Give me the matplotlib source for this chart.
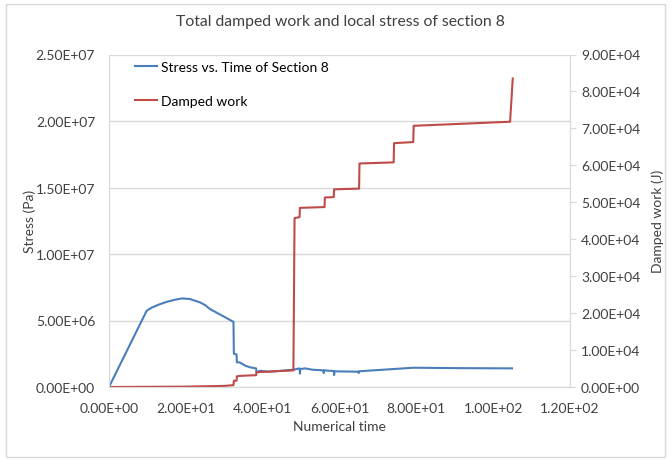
import matplotlib.pyplot as plt
from matplotlib.patches import Rectangle
from matplotlib.ticker import FuncFormatter

plt.rcParams['font.family'] = ['Lato', 'DejaVu Sans']

# stress of section 8 (Pa, x1e6) vs numerical time
t_stress = [0, 9.8, 11, 13, 15, 17, 19, 21, 23.7, 25, 26.3, 32.4, 32.5, 33.2, 33.3,
            34, 35.5, 36.7, 38.3, 38.4, 39.3, 41.5, 44, 48, 49.6, 49.7, 49.8, 51, 53,
            55.8, 55.9, 56, 58.5, 58.6, 58.7, 64.9, 65, 65.1, 74, 79.3, 90, 104.9]
stress = [0, 5.73, 5.95, 6.2, 6.4, 6.55, 6.66, 6.62, 6.36, 6.16, 5.86, 4.9, 2.5, 2.45, 1.85,
          1.85, 1.6, 1.48, 1.4, 1.1, 1.22, 1.15, 1.2, 1.3, 1.4, 1.0, 1.35, 1.4, 1.3,
          1.25, 1.05, 1.25, 1.2, 0.9, 1.18, 1.15, 1.05, 1.18, 1.35, 1.45, 1.42, 1.4]

# damped work (J, x1e4)
t_work = [0, 20, 30, 32.4, 32.5, 33.2, 33.3, 34, 36, 38.3, 38.4, 42, 48, 48.3, 49.6, 49.7,
          56.1, 56.2, 58.5, 58.6, 65.1, 65.2, 74.1, 74.2, 79.2, 79.3, 104.4, 105.1]
work = [0, 0.01, 0.03, 0.05, 0.17, 0.17, 0.29, 0.3, 0.31, 0.32, 0.4, 0.42, 0.45, 4.57, 4.6, 4.85,
        4.87, 5.13, 5.14, 5.35, 5.37, 6.05, 6.08, 6.6, 6.63, 7.07, 7.18, 8.35]

blue = '#4A7EBB'
red = '#BE4B48'
grid_c = '#D9D9D9'
txt_c = '#404040'

fig = plt.figure(figsize=(6.71, 4.6), dpi=100)
fig.patches.append(Rectangle((0.009, 0.005), 0.982, 0.984, transform=fig.transFigure,
                             fill=False, edgecolor='#D9D9D9', linewidth=1))
ax = fig.add_axes([109 / 671, 1 - 388 / 460, (570 - 109) / 671, (388 - 55.5) / 460])
ax2 = ax.twinx()

l1, = ax.plot(t_stress, [s * 1e6 for s in stress], color=blue, lw=1.5, label='Stress vs. Time of Section 8')
l2, = ax2.plot(t_work, [w * 1e4 for w in work], color=red, lw=1.5, label='Damped work')

ax.set_xlim(0, 120)
ax.set_ylim(0, 2.5e7)
ax2.set_ylim(0, 9e4)
ax.set_xticks(range(0, 121, 20))
ax.set_yticks([i * 5e6 for i in range(6)])
ax2.set_yticks([i * 1e4 for i in range(10)])
sci = FuncFormatter(lambda v, p: f'{v:.2E}')
ax.xaxis.set_major_formatter(sci)
ax.yaxis.set_major_formatter(sci)
ax2.yaxis.set_major_formatter(sci)

ax.grid(axis='y', color=grid_c, lw=1)
ax.set_axisbelow(True)
for a in (ax, ax2):
    a.spines['top'].set_visible(False)
    a.spines['left'].set_color(grid_c)
    a.spines['right'].set_color(grid_c)
    a.spines['bottom'].set_color(grid_c)
ax.tick_params(axis='both', length=0, labelsize=10, colors=txt_c, pad=10)
ax2.tick_params(axis='y', length=4, color=grid_c, labelsize=10, colors=txt_c, pad=4)
ax.tick_params(axis='x', pad=11)

ax.set_xlabel('Numerical time', fontsize=10, color=txt_c, labelpad=4)
ax.set_ylabel('Stress (Pa)', fontsize=10, color=txt_c, labelpad=0)
ax2.set_ylabel('Damped work (J)', fontsize=10, color=txt_c, labelpad=8)
fig.text(0.507, 1 - 22 / 460, 'Total damped work and local stress of section 8',
         ha='center', va='center', fontsize=11.3, color=txt_c)

ax2.legend(handles=[l1, l2], loc='upper left', bbox_to_anchor=(135 / 671, 1 - 62 / 460),
           bbox_transform=fig.transFigure, frameon=False, fontsize=10, handlelength=1.6,
           handletextpad=0.3, labelspacing=1.6, borderpad=0, borderaxespad=0)

fig.savefig('out.png', dpi=100)
